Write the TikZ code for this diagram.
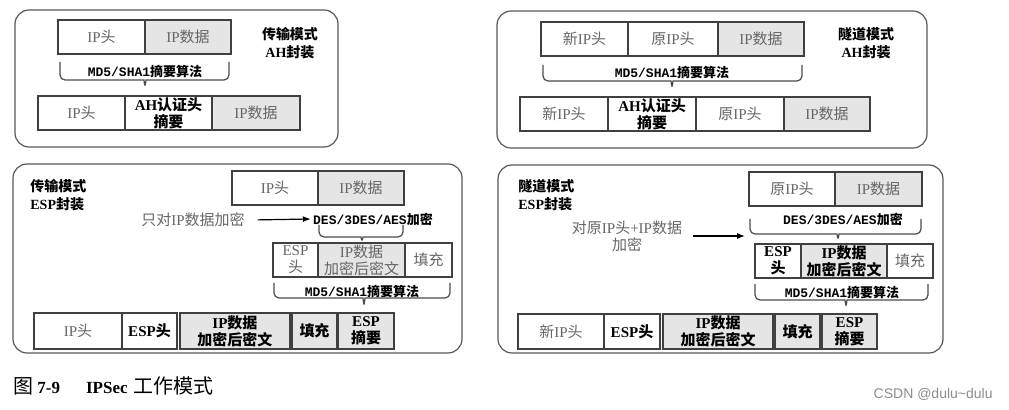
\documentclass[tikz,border=0pt]{standalone}
\usepackage{fontspec}
\setmainfont{Liberation Serif}
\setmonofont{Liberation Mono}
\newfontfamily\cjk{Noto Sans CJK SC}
\newfontfamily\wmfont{Liberation Sans}
\newcommand\zh[1]{{\cjk #1}}
\usepackage{tikz}
\usetikzlibrary{arrows.meta,positioning}
\tikzset{
  panel/.style  ={draw=black!65,line width=0.6pt,rounded corners=7pt},
  cell/.style   ={draw=black!75,line width=0.6pt,outer sep=0pt,inner sep=0pt,minimum height=17pt,align=center,font=\fontsize{7.5}{8.6}\selectfont},
  datafill/.style={fill=black!10},
  faint/.style  ={text=black!60},
  strong/.style ={font=\fontsize{7.5}{8.6}\selectfont\bfseries},
  tag/.style    ={align=center,inner sep=1pt,font=\fontsize{7}{8.8}\selectfont\bfseries},
  algo/.style   ={inner sep=1pt,font=\fontsize{6.5}{7.6}\selectfont\ttfamily\bfseries},
  note/.style   ={align=center,text=black!60,font=\fontsize{7.5}{8.5}\selectfont},
  bracket/.style={draw=black!70,line width=0.6pt,rounded corners=2.5pt},
  arr/.style    ={-{Latex[length=4pt,width=3pt]},line width=0.6pt},
}
\begin{document}
\begin{tikzpicture}[x=0.5pt,y=-0.5pt]
  \useasboundingbox[fill=white] (0,0) rectangle (1009,410);
  % AH, transport mode
  \draw[panel] (15,10) rectangle (338,147);
  \node[cell,faint,minimum width=43.5pt](tla1) at (101.5,37){IP\zh{头}};
  \node[cell,faint,datafill,minimum width=43pt,right=0pt of tla1](tla2){IP\zh{数据}};
  \node[algo](tlmd) at (145,71){MD5/SHA1\zh{摘要算法}};
  \node[cell,faint,minimum width=43.5pt](tlb1) at (81.5,113){IP\zh{头}};
  \node[cell,strong,minimum width=43.5pt,right=0pt of tlb1](tlb2){AH\zh{认证头}\\\zh{摘要}};
  \node[cell,faint,datafill,minimum width=44pt,right=0pt of tlb2](tlb3){IP\zh{数据}};
  \node[tag](tlmode) at (290,43){\zh{传输模式}\\AH\zh{封装}};
  % AH, tunnel mode
  \draw[panel] (497,11) rectangle (927,148);
  \node[cell,faint,minimum width=43.5pt](tra1) at (584.5,39){\zh{新}IP\zh{头}};
  \node[cell,faint,minimum width=45pt,right=0pt of tra1](tra2){\zh{原}IP\zh{头}};
  \node[cell,faint,datafill,minimum width=43pt,right=0pt of tra2](tra3){IP\zh{数据}};
  \node[algo](trmd) at (672,72){MD5/SHA1\zh{摘要算法}};
  \node[cell,faint,minimum width=44pt](trb1) at (564,114){\zh{新}IP\zh{头}};
  \node[cell,strong,minimum width=44pt,right=0pt of trb1](trb2){AH\zh{认证头}\\\zh{摘要}};
  \node[cell,faint,minimum width=44pt,right=0pt of trb2](trb3){\zh{原}IP\zh{头}};
  \node[cell,faint,datafill,minimum width=43pt,right=0pt of trb3](trb4){IP\zh{数据}};
  \node[tag](trmode) at (866,43){\zh{隧道模式}\\AH\zh{封装}};
  % ESP, transport mode
  \draw[panel] (13,164) rectangle (462,353);
  \node[tag,align=left,anchor=west](blmode) at (28,195){\zh{传输模式}\\ESP\zh{封装}};
  \node[cell,faint,minimum width=43pt](bla1) at (275,188){IP\zh{头}};
  \node[cell,faint,datafill,minimum width=43pt,right=0pt of bla1](bla2){IP\zh{数据}};
  \node[note](bltxt) at (193,220){\zh{只对}IP\zh{数据加密}};
  \node[algo](bldes) at (373,219){DES/3DES/AES\zh{加密}};
  \node[cell,faint,minimum width=22.5pt](blb1) at (295.5,260){ESP\\\zh{头}};
  \node[cell,faint,datafill,minimum width=43.5pt,right=0pt of blb1](blb2){IP\zh{数据}\\\zh{加密后密文}};
  \node[cell,faint,minimum width=23.5pt,right=0pt of blb2](blb3){\zh{填充}};
  \node[algo](blmd) at (362,291){MD5/SHA1\zh{摘要算法}};
  \node[cell,faint,minimum width=44pt,minimum height=18pt](blc1) at (78,331){IP\zh{头}};
  \node[cell,strong,minimum width=27.5pt,minimum height=18pt,right=0pt of blc1](blc2){ESP\zh{头}};
  \node[cell,strong,datafill,minimum width=55pt,minimum height=18pt,right=1.5pt of blc2](blc3){IP\zh{数据}\\\zh{加密后密文}};
  \node[cell,strong,datafill,minimum width=22.5pt,minimum height=18pt,right=1pt of blc3](blc4){\zh{填充}};
  \node[cell,strong,datafill,minimum width=28pt,minimum height=18pt,right=0.5pt of blc4](blc5){ESP\\\zh{摘要}};
  % ESP, tunnel mode
  \draw[panel] (498,165) rectangle (943,353);
  \node[tag,align=left,anchor=west](brmode) at (516,195){\zh{隧道模式}\\ESP\zh{封装}};
  \node[cell,faint,minimum width=43pt](bra1) at (792,189){\zh{原}IP\zh{头}};
  \node[cell,faint,datafill,minimum width=43.5pt,right=0pt of bra1](bra2){IP\zh{数据}};
  \node[note](brtxt) at (627,236){\zh{对原}IP\zh{头}+IP\zh{数据}\\\zh{加密}};
  \coordinate (brto) at (745,236);
  \node[algo](brdes) at (843,219){DES/3DES/AES\zh{加密}};
  \node[cell,strong,minimum width=23pt](brb1) at (778,261){ESP\\\zh{头}};
  \node[cell,strong,datafill,minimum width=43pt,right=0pt of brb1](brb2){IP\zh{数据}\\\zh{加密后密文}};
  \node[cell,faint,minimum width=23pt,right=0pt of brb2](brb3){\zh{填充}};
  \node[algo](brmd) at (842,292){MD5/SHA1\zh{摘要算法}};
  \node[cell,faint,minimum width=43pt,minimum height=17.5pt](brc1) at (561,331.5){\zh{新}IP\zh{头}};
  \node[cell,strong,minimum width=28pt,minimum height=17.5pt,right=0pt of brc1](brc2){ESP\zh{头}};
  \node[cell,strong,datafill,minimum width=55pt,minimum height=17.5pt,right=1.5pt of brc2](brc3){IP\zh{数据}\\\zh{加密后密文}};
  \node[cell,strong,datafill,minimum width=22.5pt,minimum height=17.5pt,right=1pt of brc3](brc4){\zh{填充}};
  \node[cell,strong,datafill,minimum width=27.5pt,minimum height=17.5pt,right=1pt of brc4](brc5){ESP\\\zh{摘要}};
  % braces and arrows
  \foreach \xa/\xb/\yt/\yl/\xm/\ym in {60/229/62/80/145/88,543/802/65/81/672/89,319/403/225/237/362/243,274/450/283/298/364/307,750/921/219/234/838/241,755/928/284/300/846/308}
    \draw[bracket](\xa,\yt) |- (\xm-6,\yl) .. controls (\xm-1,\yl) .. (\xm,\ym) .. controls (\xm+1,\yl) .. (\xm+6,\yl) -| (\xb,\yt);
  \draw[arr,shorten <=3pt](bltxt.east) -- (bldes.west);
  \draw[arr,shorten <=2pt](brtxt.east) -- (brto);
  % caption
  \node[anchor=west,inner sep=0pt,font=\fontsize{8.5}{10}\selectfont](cap) at (13,386){{\fontsize{10}{12}\selectfont\zh{图}}\hspace{2pt}\textbf{7-9}\hspace{13pt}\textbf{IPSec}\hspace{3pt}{\fontsize{10}{12}\selectfont\zh{工作模式}}};
  \node[anchor=east,inner sep=0pt,text=black!45,font=\wmfont\fontsize{7}{8}\selectfont](wm) at (993,394){CSDN @dulu\textasciitilde dulu};
\end{tikzpicture}
\end{document}
